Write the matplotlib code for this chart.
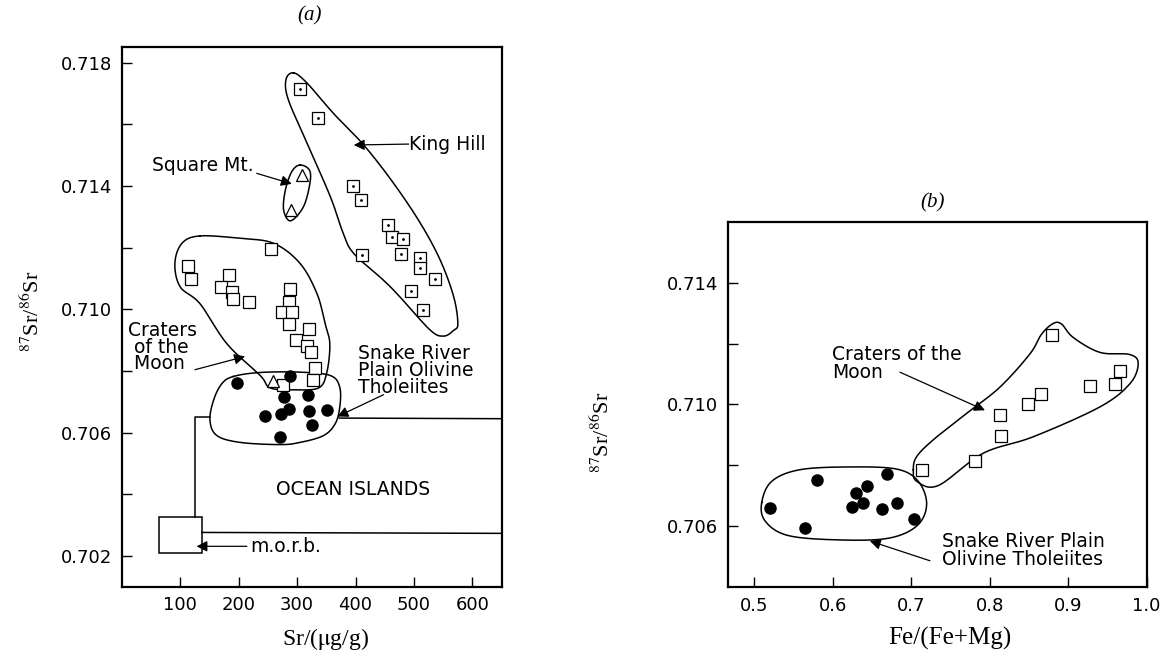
import numpy as np
import matplotlib
matplotlib.use("Agg")
import matplotlib.pyplot as plt

plt.rcParams['font.family'] = ['DejaVu Sans']
plt.rcParams['mathtext.fontset'] = 'stix'

# ---- panel (a) data : Sr (ug/g) vs 87Sr/86Sr
king_sr = [305, 335, 395, 409, 456, 463, 482, 411, 478, 510, 511, 536, 495, 516]
king_r = [0.71716, 0.71620, 0.71400, 0.71355, 0.71275, 0.71234, 0.71227,
          0.71176, 0.71180, 0.71167, 0.71133, 0.71098, 0.71060, 0.70999]

sqmt_sr = [308, 289, 258]
sqmt_r = [0.71436, 0.71322, 0.70767]

com_sr = [256, 114, 118, 183, 170, 188, 191, 218, 288, 286, 275, 291,
          286, 321, 298, 317, 324, 331, 328, 276]
com_r = [0.71195, 0.71139, 0.71097, 0.71111, 0.71071, 0.71055, 0.71034, 0.71024,
         0.71065, 0.71024, 0.70991, 0.70991, 0.70951, 0.70937, 0.70899, 0.70880,
         0.70861, 0.70810, 0.70769, 0.70753]

srp_sr = [198, 288, 277, 318, 245, 272, 286, 320, 352, 326, 271]
srp_r = [0.70760, 0.70783, 0.70715, 0.70723, 0.70655, 0.70659, 0.70675,
         0.70669, 0.70672, 0.70623, 0.70585]

# field outlines (a)
king_fx = [294, 317, 362, 414, 465, 511, 545, 568, 575, 568, 551, 528, 476, 448,
           397, 379, 357, 317, 285, 281]
king_fy = [0.71767, 0.71734, 0.71636, 0.71533, 0.71409, 0.71279, 0.71159, 0.71040,
           0.70953, 0.70932, 0.70913, 0.70932, 0.71040, 0.71094, 0.71181, 0.71246,
           0.71365, 0.71539, 0.71680, 0.71745]
sqmt_fx = [305, 321, 322, 311, 289, 277, 280, 291]
sqmt_fy = [0.71468, 0.71452, 0.71409, 0.71333, 0.71287, 0.71322, 0.71387, 0.71447]
com_fx = [134, 203, 260, 305, 334, 348, 356, 351, 337, 294, 254, 237, 180, 134, 100, 91, 103]
com_fy = [0.71238, 0.71230, 0.71214, 0.71149, 0.71051, 0.70953, 0.70888, 0.70796,
          0.70745, 0.70739, 0.70745, 0.70785, 0.70888, 0.71018, 0.71073, 0.71149, 0.71214]
srp_fx = [191, 237, 305, 357, 373, 373, 365, 345, 305, 271, 203, 163, 151, 157, 171]
srp_fy = [0.70782, 0.70795, 0.70796, 0.70785, 0.70747, 0.70682, 0.70628, 0.70590,
          0.70568, 0.70561, 0.70568, 0.70590, 0.70639, 0.70704, 0.70758]

# ocean islands / morb field lines
ocean_x1 = [125.5, 125.5, 151]
ocean_y1 = [0.70327, 0.70650, 0.70650]
ocean_x2 = [372, 650]
ocean_y2 = [0.70647, 0.70645]
ocean_x3 = [137, 650]
ocean_y3 = [0.70276, 0.70273]
morb_x = [63, 137]
morb_y = [0.70209, 0.70327]

# ---- panel (b) data : Fe/(Fe+Mg) vs 87Sr/86Sr
com_fe = [0.7133, 0.7811, 0.8143, 0.8130, 0.849, 0.8652, 0.8796, 0.9277, 0.9595, 0.9659]
com_rb = [0.70786, 0.70813, 0.70897, 0.70965, 0.71003, 0.71033, 0.71228,
          0.71060, 0.71068, 0.71109]
srp_fe = [0.520, 0.5646, 0.5803, 0.6292, 0.644, 0.6248, 0.6389, 0.6687, 0.6814, 0.6631, 0.7038]
srp_rb = [0.70659, 0.70594, 0.70753, 0.70708, 0.70731, 0.70662, 0.70675,
          0.70773, 0.70678, 0.70658, 0.70623]

srp_bx = [0.5094, 0.5222, 0.5582, 0.6219, 0.6814, 0.7089, 0.7196, 0.7069, 0.6687,
          0.6006, 0.5413, 0.5136]
srp_by = [0.70678, 0.70748, 0.70786, 0.70795, 0.70788, 0.70748, 0.70672, 0.70601,
          0.70560, 0.70556, 0.70571, 0.70618]
com_bx = [0.7026, 0.7069, 0.7344, 0.7917, 0.8554, 0.9404, 0.9786, 0.9892, 0.9786, 0.9404,
          0.9064, 0.8916, 0.8809, 0.8661, 0.8512, 0.8130, 0.7706, 0.7280, 0.7069]
com_by = [0.70786, 0.70748, 0.70734, 0.70840, 0.70894, 0.70992, 0.71068, 0.71134,
          0.71164, 0.71171, 0.71220, 0.71264, 0.71266, 0.71231, 0.71166, 0.71057,
          0.70971, 0.70884, 0.70829]


def smooth(xs, ys, n=16):
    # closed catmull-rom through the outline points
    P = np.column_stack([xs, ys]).astype(float)
    m = len(P)
    t = np.linspace(0, 1, n, endpoint=False)[:, None]
    out = []
    for i in range(m):
        p0, p1, p2, p3 = P[i - 1], P[i], P[(i + 1) % m], P[(i + 2) % m]
        out.append(0.5 * (2 * p1 + (-p0 + p2) * t + (2 * p0 - 5 * p1 + 4 * p2 - p3) * t ** 2
                          + (-p0 + 3 * p1 - 3 * p2 + p3) * t ** 3))
    out = np.vstack(out + [out[0][:1]])
    return out[:, 0], out[:, 1]


def field(ax, xs, ys):
    sx, sy = smooth(xs, ys)
    ax.plot(sx, sy, color='k', lw=1.1, zorder=2)


def arrow(ax, text_xy, tip_xy):
    ax.annotate('', xy=tip_xy, xytext=text_xy,
                arrowprops=dict(arrowstyle='-|>', color='k', lw=0.9,
                                mutation_scale=16, shrinkA=0, shrinkB=0))


def style(ax):
    for s in ax.spines.values():
        s.set_linewidth(1.6)
    ax.tick_params(which='both', direction='in', length=7, width=1,
                   labelsize=13, pad=7)


fig = plt.figure(figsize=(11.6, 6.55), dpi=100)
axa = fig.add_axes([0.1049, 0.1043, 0.3276, 0.8235])
axb = fig.add_axes([0.6273, 0.1034, 0.3612, 0.5581])

sq = dict(marker='s', ls='none', ms=8, mfc='white', mec='k', mew=0.9, zorder=4)
fs = 13.5
serif = 'Liberation Serif'

# ---- (a)
field(axa, king_fx, king_fy)
field(axa, sqmt_fx, sqmt_fy)
field(axa, com_fx, com_fy)
field(axa, srp_fx, srp_fy)
axa.plot(ocean_x1, ocean_y1, color='k', lw=1.1)
axa.plot(ocean_x2, ocean_y2, color='k', lw=1.1)
axa.plot(ocean_x3, ocean_y3, color='k', lw=1.1)
axa.add_patch(plt.Rectangle((morb_x[0], morb_y[0]), morb_x[1] - morb_x[0],
                            morb_y[1] - morb_y[0], fill=False, lw=1.1, ec='k'))

axa.plot(king_sr, king_r, **sq)
axa.plot(king_sr, king_r, marker='.', ls='none', ms=2, color='k', zorder=5)
axa.plot(com_sr, com_r, **sq)
axa.plot(sqmt_sr, sqmt_r, marker='^', ls='none', ms=8, mfc='white', mec='k',
         mew=0.9, zorder=4)
axa.plot(srp_sr, srp_r, marker='o', ls='none', ms=8, color='k', zorder=4)

axa.text(491, 0.71536, 'King Hill', fontsize=fs, va='center', ha='left')
arrow(axa, (491, 0.71536), (397, 0.71533))
axa.text(226, 0.71465, 'Square Mt.', fontsize=fs, va='center', ha='right')
arrow(axa, (231, 0.71441), (291, 0.71407))
axa.text(11, 0.70877, 'Craters\n of the\n Moon', fontsize=fs, va='center',
         ha='left', linespacing=0.85)
arrow(axa, (125.5, 0.70804), (211, 0.70847))
axa.text(405, 0.70802, 'Snake River\nPlain Olivine\nTholeiites', fontsize=fs,
         va='center', ha='left', linespacing=0.85)
arrow(axa, (448, 0.70723), (369, 0.70652))
axa.text(396, 0.70415, 'OCEAN ISLANDS', fontsize=fs, va='center', ha='center')
axa.text(220, 0.70230, 'm.o.r.b.', fontsize=fs, va='center', ha='left')
arrow(axa, (214, 0.70231), (128, 0.70231))

axa.set_xlim(0, 650)
axa.set_ylim(0.701, 0.7185)
axa.set_xticks([100, 200, 300, 400, 500, 600])
axa.set_yticks([0.702, 0.706, 0.710, 0.714, 0.718])
axa.set_yticks([0.704, 0.708, 0.712, 0.716], minor=True)
axa.set_yticklabels(['0.702', '0.706', '0.710', '0.714', '0.718'])
style(axa)
axa.set_xlabel(r'Sr/($\mathrm{\mu}$g/g)', family=serif, fontsize=17)
axa.set_ylabel(r'$^{87}$Sr/$^{86}$Sr', family=serif, fontsize=16)
axa.xaxis.set_label_coords(0.535, -0.072)
axa.yaxis.set_label_coords(-0.205, 0.51)
axa.text(0.495, 1.059, '(a)', transform=axa.transAxes, family=serif,
         style='italic', fontsize=15, ha='center', va='center')

# ---- (b)
field(axb, srp_bx, srp_by)
field(axb, com_bx, com_by)
axb.plot(com_fe, com_rb, **sq)
axb.plot(srp_fe, srp_rb, marker='o', ls='none', ms=8, color='k', zorder=4)

axb.text(0.5986, 0.71134, 'Craters of the\nMoon', fontsize=fs, va='center',
         ha='left', linespacing=0.92)
arrow(axb, (0.6856, 0.71106), (0.7939, 0.70981))
axb.text(0.7387, 0.70520, 'Snake River Plain\nOlivine Tholeiites', fontsize=fs,
         va='center', ha='left', linespacing=0.92)
arrow(axb, (0.7238, 0.70487), (0.6472, 0.70552))

axb.set_xlim(0.466, 1.0)
axb.set_ylim(0.704, 0.716)
axb.set_xticks([0.5, 0.6, 0.7, 0.8, 0.9, 1.0])
axb.set_xticklabels(['0.5', '0.6', '0.7', '0.8', '0.9', '1.0'])
axb.set_yticks([0.706, 0.710, 0.714])
axb.set_yticks([0.708, 0.712], minor=True)
axb.set_yticklabels(['0.706', '0.710', '0.714'])
style(axb)
axb.set_xlabel('Fe/(Fe+Mg)', family=serif, fontsize=18)
axb.set_ylabel(r'$^{87}$Sr/$^{86}$Sr', family=serif, fontsize=16)
axb.xaxis.set_label_coords(0.53, -0.108)
axb.yaxis.set_label_coords(-0.272, 0.425)
axb.text(0.49, 1.051, '(b)', transform=axb.transAxes, family=serif,
         style='italic', fontsize=15, ha='center', va='center')

fig.savefig('out.png', dpi=100)
